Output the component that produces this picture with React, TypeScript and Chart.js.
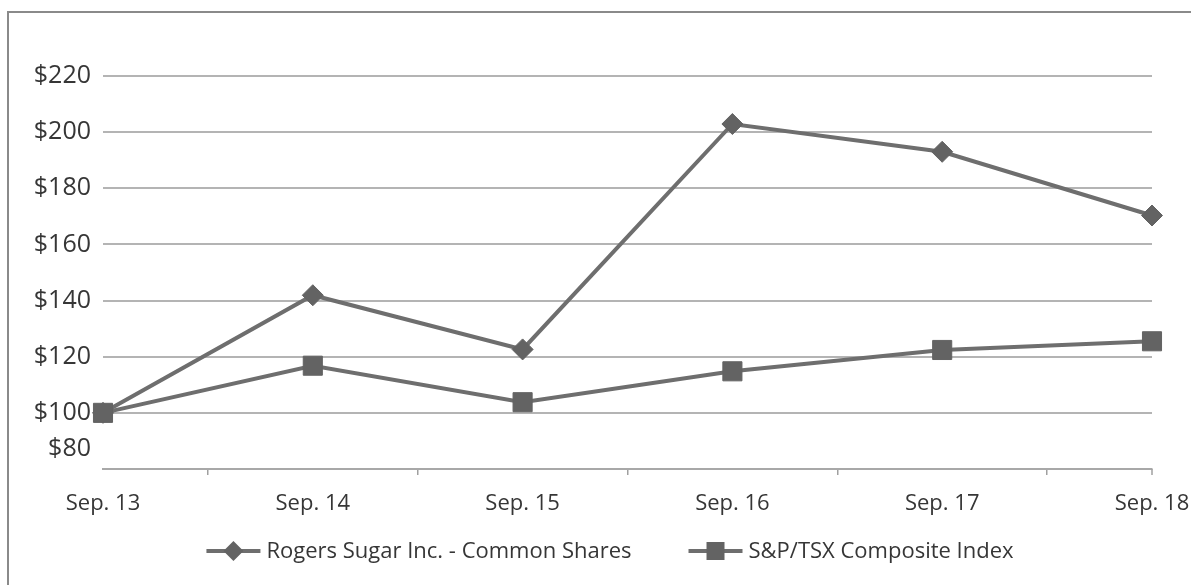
import React, { useEffect, useRef } from "react";
import { Chart, registerables } from "chart.js";

Chart.register(...registerables);

const categories = ["Sep. 13", "Sep. 14", "Sep. 15", "Sep. 16", "Sep. 17", "Sep. 18"];
const rogersValues = [100, 141.9, 122.6, 202.9, 193.0, 170.3];
const tsxValues = [100, 116.8, 103.8, 114.8, 122.4, 125.5];
const seriesNames = ["Rogers Sugar Inc. - Common Shares", "S&P/TSX Composite Index"];
const yMin = 80;
const yMax = 220;
const yStep = 20;

const W = 1191;
const H = 585;
const FONT = "'Open Sans', 'DejaVu Sans', sans-serif";
const TEXT = "#363636";
const LINE = "#6e6e6e";
const MARK = "#636363";
const GRID = "#b4b4b4";

const extras = {
  id: "extras",
  beforeDraw(chart: any) {
    const ctx = chart.ctx;
    ctx.save();
    ctx.fillStyle = "#ffffff";
    ctx.fillRect(0, 0, W, H);
    ctx.strokeStyle = "#8a8a8a";
    ctx.lineWidth = 2;
    ctx.beginPath();
    ctx.moveTo(8, H + 5);
    ctx.lineTo(8, 12);
    ctx.lineTo(W + 5, 12);
    ctx.stroke();
    ctx.restore();
  },
  afterDraw(chart: any) {
    const ctx = chart.ctx;
    const y = chart.scales.y;
    const x = chart.scales.x;
    ctx.save();
    // shifted lowest y label
    ctx.font = `25px ${FONT}`;
    ctx.fillStyle = TEXT;
    ctx.textAlign = "right";
    ctx.textBaseline = "middle";
    ctx.fillText("$" + yMin, chart.chartArea.left - 12, y.getPixelForValue(yMin) - 20);
    // end tick at right
    ctx.strokeStyle = "#a0a0a0";
    ctx.lineWidth = 1.5;
    const xr = x.getPixelForValue(categories.length - 1);
    ctx.beginPath();
    ctx.moveTo(xr, chart.chartArea.bottom);
    ctx.lineTo(xr, chart.chartArea.bottom + 6);
    ctx.stroke();

    // legend
    ctx.font = `22px ${FONT}`;
    ctx.textAlign = "left";
    const sampleW = 54;
    const gapText = 6;
    const gapItem = 57;
    const widths = chart.data.datasets.map((d: any) => ctx.measureText(d.label).width);
    const total = widths.reduce((a: number, b: number) => a + b, 0) + chart.data.datasets.length * (sampleW + gapText) + gapItem * (chart.data.datasets.length - 1);
    let cx = 610 - total / 2;
    const ly = 551;
    chart.data.datasets.forEach((d: any, i: number) => {
      ctx.strokeStyle = d.borderColor;
      ctx.lineWidth = d.borderWidth;
      ctx.beginPath();
      ctx.moveTo(cx, ly);
      ctx.lineTo(cx + sampleW, ly);
      ctx.stroke();
      ctx.fillStyle = d.pointBackgroundColor;
      ctx.beginPath();
      if (d.pointStyle === "rectRot") {
        const r = 10;
        const mx = cx + sampleW / 2;
        ctx.moveTo(mx, ly - r);
        ctx.lineTo(mx + r, ly);
        ctx.lineTo(mx, ly + r);
        ctx.lineTo(mx - r, ly);
        ctx.closePath();
      } else {
        const s = 9;
        ctx.rect(cx + sampleW / 2 - s, ly - s, 2 * s, 2 * s);
      }
      ctx.fill();
      ctx.fillStyle = TEXT;
      ctx.textBaseline = "middle";
      ctx.fillText(d.label, cx + sampleW + gapText, ly + 1);
      cx += sampleW + gapText + widths[i] + gapItem;
    });
    ctx.restore();
  },
};

export default function App() {
  const ref = useRef<HTMLCanvasElement | null>(null);
  useEffect(() => {
    if (!ref.current) return;
    const chart = new Chart(ref.current, {
      type: "line",
      data: {
        labels: categories,
        datasets: [
          {
            label: seriesNames[0],
            data: rogersValues,
            borderColor: LINE,
            borderWidth: 4,
            pointStyle: "rectRot",
            pointRadius: 10.5,
            pointBackgroundColor: MARK,
            pointBorderColor: MARK,
            pointBorderWidth: 1,
            tension: 0,
            order: 2,
          },
          {
            label: seriesNames[1],
            data: tsxValues,
            borderColor: LINE,
            borderWidth: 4,
            pointStyle: "rect",
            pointRadius: 13.5,
            pointBackgroundColor: MARK,
            pointBorderColor: MARK,
            pointBorderWidth: 1,
            tension: 0,
            order: 1,
          },
        ],
      },
      options: {
        responsive: false,
        animation: false,
        events: [],
        layout: { padding: { left: 0, right: 39, top: 76, bottom: 66 } },
        plugins: {
          legend: { display: false },
          tooltip: { enabled: false },
        },
        scales: {
          x: {
            type: "category",
            offset: false,
            afterFit: (s: any) => {
              s.height = 50;
              s.paddingLeft = 0;
              s.paddingRight = 0;
            },
            grid: {
              offset: true,
              drawOnChartArea: false,
              drawTicks: true,
              tickLength: 6,
              color: "#a0a0a0",
              lineWidth: 1.5,
            },
            border: { display: true, color: "#a8a8a8", width: 2 },
            ticks: {
              color: TEXT,
              font: { family: FONT, size: 22 },
              padding: 16,
              maxRotation: 0,
              autoSkip: false,
            },
          },
          y: {
            min: yMin,
            max: yMax,
            afterFit: (s: any) => {
              s.width = 103;
              s.paddingTop = 0;
              s.paddingBottom = 0;
            },
            grid: {
              color: GRID,
              lineWidth: 2,
              drawTicks: false,
            },
            border: { display: false },
            ticks: {
              stepSize: yStep,
              padding: 12,
              color: (c: any) => (c.tick && c.tick.value === yMin ? "rgba(0,0,0,0)" : TEXT),
              font: { family: FONT, size: 25 },
              callback: (v: any) => "$" + v,
            },
          },
        },
      },
      plugins: [extras],
    });
    return () => chart.destroy();
  }, []);
  return (
    <div style={{ position: "absolute", left: 0, top: 0, width: W, height: H }}>
      <canvas ref={ref} width={W} height={H} style={{ display: "block", width: W, height: H }} />
    </div>
  );
}
